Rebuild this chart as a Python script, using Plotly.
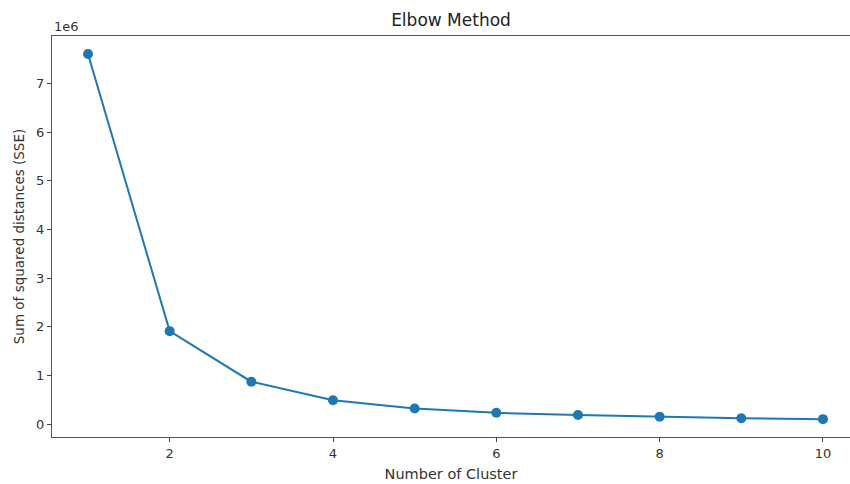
import plotly.graph_objects as go

clusters = [1, 2, 3, 4, 5, 6, 7, 8, 9, 10]
sse = [7610000, 1910000, 870000, 490000, 320000, 230000, 185000, 150000, 120000, 100000]

x_ticks = [2, 4, 6, 8, 10]
y_tick_vals = [0, 1e6, 2e6, 3e6, 4e6, 5e6, 6e6, 7e6]
y_tick_text = ["0", "1", "2", "3", "4", "5", "6", "7"]

fig = go.Figure()
fig.add_trace(go.Scatter(
    x=clusters, y=sse, mode="lines+markers",
    line=dict(color="#1f77b4", width=2),
    marker=dict(color="#1f77b4", size=10),
    showlegend=False,
))

font_color = "#333333"
fig.update_layout(
    width=850, height=484,
    margin=dict(l=52, r=0, t=36, b=47, autoexpand=False),
    paper_bgcolor="white", plot_bgcolor="white",
    font=dict(family="DejaVu Sans", size=13, color=font_color),
    title=dict(text="Elbow Method", x=0.5, xref="paper", xanchor="center",
               y=1 - 20 / 484, yref="container", yanchor="middle", automargin=False,
               font=dict(size=17, color="#222222")),
    xaxis=dict(
        range=[0.559, 10.331], tickvals=x_ticks, ticks="outside", ticklen=4,
        tickcolor="#444", showline=True, linecolor="#555", linewidth=1.2,
        mirror=True, showgrid=False, zeroline=False, automargin=False,
        tickfont=dict(size=13),
        title=dict(text="Number of Cluster", standoff=9, font=dict(size=14.5)),
    ),
    yaxis=dict(
        range=[-267000, 7980000], tickvals=y_tick_vals, ticktext=y_tick_text,
        ticks="outside", ticklen=4, tickcolor="#444", showline=True,
        linecolor="#555", linewidth=1.2, mirror=False, showgrid=False,
        zeroline=False, automargin=False, tickfont=dict(size=13),
        title=dict(text="Sum of squared distances (SSE)", standoff=8, font=dict(size=13.5)),
    ),
    annotations=[dict(text="1e6", xref="paper", yref="paper", x=0, y=1,
                      xanchor="left", yanchor="bottom", showarrow=False,
                      yshift=0, font=dict(size=13, color=font_color))],
)

fig.write_html("out.html", config={"displayModeBar": False},
               post_script="document.body.style.margin='0';")
